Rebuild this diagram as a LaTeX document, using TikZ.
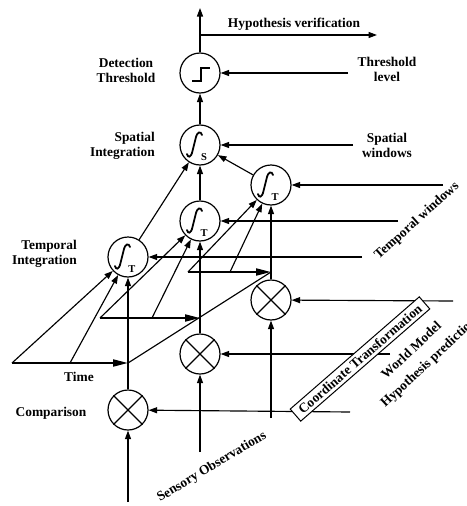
\documentclass[tikz,border=0pt]{standalone}
\usepackage{fontspec}
\setmainfont{Liberation Serif}
\usetikzlibrary{arrows.meta}
\begin{document}
\begin{tikzpicture}[x=1pt,y=-1pt,
  every node/.style={font=\fontsize{13.4}{15}\selectfont\bfseries},
  wire/.style={line width=1.15pt},
  arr/.style={wire,-{Triangle[length=8.5pt,width=6pt]}},
  axis/.style={line width=2pt,-{Triangle[length=15pt,width=7pt]}},
  unit/.style={circle,draw,line width=1.2pt,fill=white,minimum size=40pt,inner sep=0pt},
  integ/.pic={
    \draw[line width=1.8pt,line cap=round]
      (-13,9) .. controls (-12,13) and (-9,13) .. (-7.5,6) -- (-4.5,-6)
      .. controls (-3,-14) and (1,-14) .. (2,-10);
    \node[font=\fontsize{10.5}{10.5}\selectfont\bfseries,inner sep=0pt] at (4,12.5) {#1};
  },
  stepfn/.pic={
    \draw[line width=2.4pt] (-8,8) -- (1,8) -- (1,-5) -- (10,-5);
  },
]
\useasboundingbox (0,0) rectangle (466,506);

% processing units
\node[unit] (thr) at (200,73) {};
\node[unit] (sp)  at (200,145) {};
\node[unit] (t3)  at (271,185) {};
\node[unit] (t2)  at (200,221) {};
\node[unit] (t1)  at (128,257) {};
\node[unit] (x3)  at (271,300) {};
\node[unit] (x2)  at (200,354) {};
\node[unit] (x1)  at (128,410) {};

\pic at (thr) {stepfn};
\pic at (sp) {integ=S};
\pic at (t1) {integ=T};
\pic at (t2) {integ=T};
\pic at (t3) {integ=T};
\foreach \n in {x1,x2,x3}{
  \draw[wire] (\n.45) -- (\n.225);
  \draw[wire] (\n.135) -- (\n.-45);
}

% outputs
\coordinate (top) at (200,8);
\coordinate (hv0) at (200,35);
\coordinate (hv1) at (377,35);
\draw[arr] (thr) -- (top);
\draw[arr] (hv0) -- (hv1);

% main vertical flow
\coordinate (s1) at (128,502);
\coordinate (s2) at (200,452);
\coordinate (s3) at (271,418);
\draw[arr] (s1) -- (x1);
\draw[arr] (s2) -- (x2);
\draw[arr] (s3) -- (x3);
\draw[arr] (x1) -- (t1);
\draw[arr] (x2) -- (t2);
\draw[arr] (x3) -- (t3);
\draw[arr] (t2) -- (sp);
\draw[arr] (t1) -- (sp);
\draw[arr] (t3) -- (sp);
\draw[arr] (sp) -- (thr);

% control inputs from the right
\coordinate (rThr) at (348,73);
\coordinate (rSp)  at (353,145);
\coordinate (rT3)  at (443,185);
\coordinate (rT2)  at (398,221);
\coordinate (rT1)  at (362,257);
\coordinate (rX3)  at (453,301);
\coordinate (rX2)  at (390,354);
\coordinate (rX1)  at (350,412);
\draw[arr] (rThr) -- (thr);
\draw[arr] (rSp) -- (sp);
\draw[arr] (rT3) -- (t3);
\draw[arr] (rT2) -- (t2);
\draw[arr] (rT1) -- (t1);
\draw[arr] (rX3) -- (x3);
\draw[arr] (rX2) -- (x2);
\draw[arr] (rX1) -- (x1);

% time axes feeding the temporal integrators
\coordinate (a1) at (12,363);
\coordinate (b1) at (70,363);
\coordinate (c1) at (128,363);
\coordinate (a2) at (100,318);
\coordinate (b2) at (152,318);
\coordinate (c2) at (200,318);
\coordinate (a3) at (188,272);
\coordinate (b3) at (230,272);
\coordinate (c3) at (271,272);
\draw[axis] (a1) -- (c1);
\draw[axis] (a2) -- (c2);
\draw[axis] (a3) -- (c3);
\draw[arr] (a1) -- (t1);
\draw[arr] (b1) -- (t1);
\draw[arr] (a2) -- (t2);
\draw[arr] (b2) -- (t2);
\draw[arr] (a3) -- (t3);
\draw[arr] (b3) -- (t3);
\draw[wire] (c1) -- (c3);

% coordinate transformation block
\node[draw,fill=white,line width=1pt,rotate=41,inner sep=2pt,
      minimum height=16pt,minimum width=171pt] (ct) at (360,359)
      {Coordinate Transformation};

% labels
\node (hvl) at (294,24) {Hypothesis verification};
\node[align=center] (dtl) at (126,70) {Detection\\Threshold};
\node[align=center] (tll) at (387,69) {Threshold\\level};
\node[align=right,anchor=east,inner sep=0pt] (sil) at (155,146) {Spatial\\Integration};
\node[align=center] (swl) at (387,145) {Spatial\\windows};
\node[align=right,anchor=east,inner sep=0pt] (til) at (77,254) {Temporal\\Integration};
\node (tml) at (79,377) {Time};
\node (cml) at (51,413) {Comparison};
\node[rotate=42] (twl) at (417,221) {Temporal windows};
\node[rotate=31] (sol) at (212,467) {Sensory Observations};
\node[rotate=43] (wml) at (411,350) {World Model};
\node[rotate=43] (hpl) at (431,361) {Hypothesis predictions};
\end{tikzpicture}
\end{document}
